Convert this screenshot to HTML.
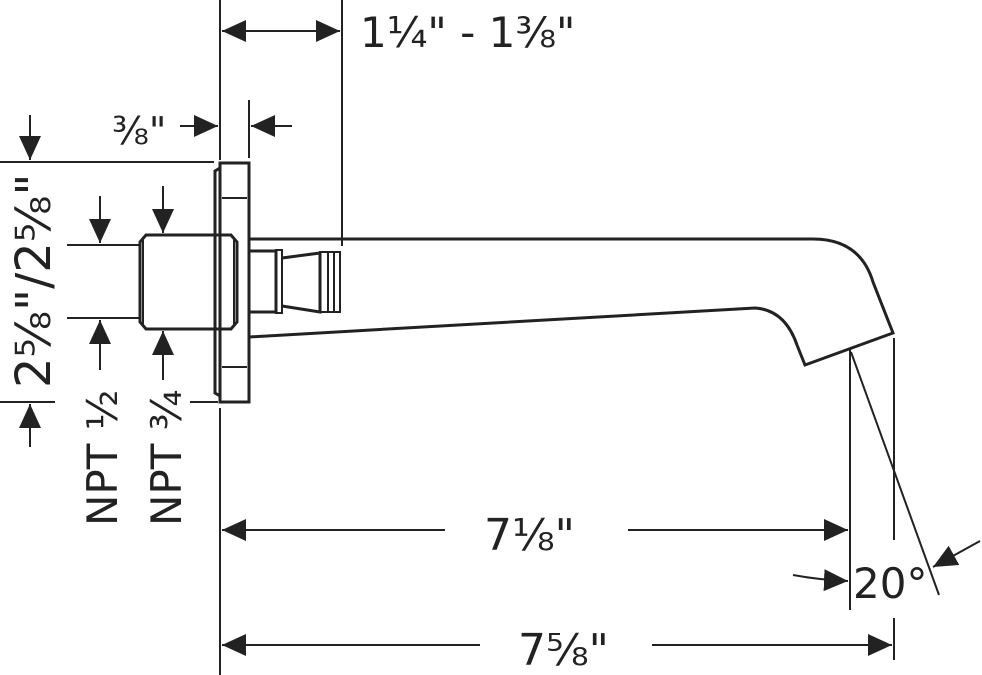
<!DOCTYPE html>
<html><head><style>html,body{margin:0;padding:0;background:#fff;}svg{display:block}text{font-family:"DejaVu Sans","Liberation Sans",sans-serif;fill:#222}</style></head>
<body>
<svg width="982" height="675" viewBox="0 0 982 675" xmlns="http://www.w3.org/2000/svg">
<defs>
<marker id="a" viewBox="0 0 24 22" refX="24" refY="11" markerWidth="24" markerHeight="22" markerUnits="userSpaceOnUse" orient="auto"><path d="M0,0 L24,11 L0,22 Z" fill="#222"/></marker>
</defs>
<g stroke="#222" fill="none" stroke-width="2">
<line x1="220" y1="0" x2="220" y2="160"/>
<line x1="220" y1="408" x2="220" y2="675"/>
<line x1="342" y1="0" x2="342" y2="246"/>
<line x1="249" y1="100" x2="249" y2="158"/>
<line x1="0" y1="162" x2="214" y2="162"/>
<line x1="0" y1="402" x2="55" y2="402"/>
<line x1="190" y1="402" x2="218" y2="402"/>
<line x1="67" y1="245" x2="140" y2="245"/>
<line x1="67" y1="318" x2="140" y2="318"/>
<line x1="850" y1="348" x2="850" y2="610"/>
<line x1="894" y1="338" x2="894" y2="540"/>
<line x1="894" y1="618" x2="894" y2="660"/>
<line x1="851" y1="352" x2="939" y2="595"/>
</g>
<g stroke="#222" fill="none" stroke-width="3">
<rect x="220" y="163" width="29" height="239"/>
<path d="M220,168 L215,171 L215,393 L220,396"/>
<line x1="222" y1="198" x2="247" y2="198" stroke-width="2"/>
<line x1="222" y1="367" x2="247" y2="367" stroke-width="2"/>
<path d="M146,235 L231,235 L237,242 L237,322 L231,329 L146,329 L140,322 L140,242 Z"/>
<line x1="143" y1="240" x2="143" y2="324" stroke-width="2"/>
<line x1="234" y1="240" x2="234" y2="324" stroke-width="2"/>
<path d="M249,251 L276,251 L276,312 L249,312"/>
<rect x="276" y="250" width="6" height="63" stroke-width="2"/>
<path d="M282,258 L320,253 L320,312 L282,306"/>
<rect x="320" y="252" width="20" height="60" stroke-width="2"/>
<line x1="328" y1="253" x2="328" y2="311" stroke-width="2"/>
<line x1="334" y1="253" x2="334" y2="311" stroke-width="2"/>
<path d="M249,239 L813,239 Q860,239 873,282 L893,333 L805,365 L797,345 Q785,310 755,308 L249,337"/>
</g>
<g stroke="#222" stroke-width="2" fill="none">
<line x1="222" y1="31" x2="340" y2="31" marker-end="url(#a)"/>
<line x1="340" y1="31" x2="222" y2="31" marker-end="url(#a)"/>
<line x1="180" y1="126" x2="218" y2="126" marker-end="url(#a)"/>
<line x1="292" y1="126" x2="251" y2="126" marker-end="url(#a)"/>
<line x1="30" y1="115" x2="30" y2="160" marker-end="url(#a)"/>
<line x1="30" y1="447" x2="30" y2="404" marker-end="url(#a)"/>
<line x1="100" y1="196" x2="100" y2="243" marker-end="url(#a)"/>
<line x1="100" y1="370" x2="100" y2="320" marker-end="url(#a)"/>
<line x1="163" y1="186" x2="163" y2="233" marker-end="url(#a)"/>
<line x1="163" y1="380" x2="163" y2="331" marker-end="url(#a)"/>
<line x1="445" y1="530" x2="222" y2="530" marker-end="url(#a)"/>
<line x1="628" y1="530" x2="848" y2="530" marker-end="url(#a)"/>
<line x1="480" y1="645" x2="222" y2="645" marker-end="url(#a)"/>
<line x1="652" y1="645" x2="892" y2="645" marker-end="url(#a)"/>
<path d="M793,575 Q820,580 848,581" marker-end="url(#a)"/>
<line x1="980" y1="541" x2="933" y2="567" marker-end="url(#a)"/>
</g>
<text x="360" y="47" font-size="42">1¼" - 1⅜"</text>
<text x="112" y="144" font-size="38">⅜"</text>
<text x="484" y="550" font-size="44">7⅛"</text>
<text x="518" y="665" font-size="44">7⅝"</text>
<text x="853" y="598" font-size="42">20°</text>
<text transform="translate(50,388) rotate(-90)" font-size="48">2⅝"/2⅝"</text>
<text transform="translate(117,526) rotate(-90)" font-size="42">NPT ½</text>
<text transform="translate(181,526) rotate(-90)" font-size="42">NPT ¾</text>
</svg>
</body></html>
